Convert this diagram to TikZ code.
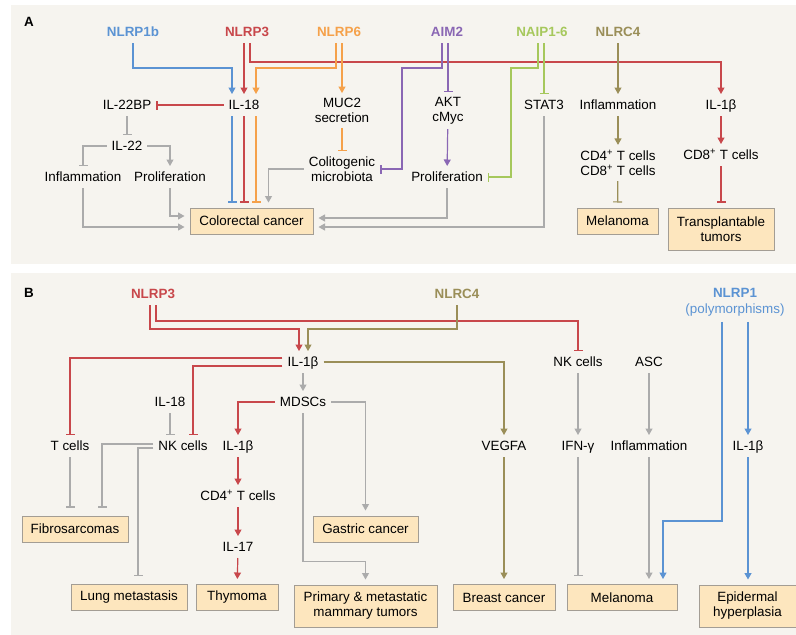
\documentclass[tikz,border=0pt]{standalone}
\usepackage{fontspec}
\setmainfont{Liberation Sans}
\usetikzlibrary{arrows.meta,calc}
\definecolor{PanelClr}{HTML}{F6F4EF}
\definecolor{BoxClr}{HTML}{FDE6BE}
\definecolor{BoxLineClr}{HTML}{A39D94}
\definecolor{BlueClr}{HTML}{5B93D3}
\definecolor{RedClr}{HTML}{C8474B}
\definecolor{OrangeClr}{HTML}{F5A14A}
\definecolor{PurpleClr}{HTML}{8A67B4}
\definecolor{GreenClr}{HTML}{A6C85C}
\definecolor{OliveClr}{HTML}{9A8E58}
\definecolor{GrayClr}{HTML}{ABABAB}
\newcommand{\lblfont}{\fontsize{13.4}{15}\selectfont}

\begin{document}
\begin{tikzpicture}[x=1pt,y=-1pt,
  lbl/.style={font=\lblfont,inner xsep=5pt,inner ysep=6pt,text height=9.6pt,text depth=0pt},
  lbltwo/.style={font=\lblfont,align=center,inner sep=5pt},
  hdr/.style={lbl,font=\lblfont\bfseries},
  box/.style={draw=BoxLineClr,fill=BoxClr,line width=1pt,font=\lblfont,align=center,inner xsep=8pt,minimum height=26pt},
  act/.style={line width=1.2pt,-{Triangle[width=7pt,length=6.5pt]}},
  inhib/.style={line width=1.2pt,-{Bar[width=9pt]}},
  tobox/.style={shorten >=5pt}]

\fill[white] (0,0) rectangle (796,635);
\useasboundingbox (0,0) rectangle (796,635);
\fill[PanelClr] (11,5) rectangle (796,264);
\fill[PanelClr] (11,273) rectangle (796,635);

\node[font=\lblfont\bfseries] (pa) at (29,22) {A};
\node[font=\lblfont\bfseries] (pb) at (29,293) {B};

\node[hdr,text=BlueClr] (nlrpob) at (133,32) {NLRP1b};
\node[hdr,text=RedClr] (nlrpthA) at (247,32) {NLRP3};
\node[hdr,text=OrangeClr] (nlrpsix) at (339,32) {NLRP6};
\node[hdr,text=PurpleClr] (aimtwo) at (447,32) {AIM2};
\node[hdr,text=GreenClr] (naip) at (542,32) {NAIP1-6};
\node[hdr,text=OliveClr] (nlrcA) at (618,32) {NLRC4};

\node[lbl] (ilet) at (244,105) {IL-18};
\node[lbl] (iltbp) at (127,105) {IL-22BP};
\node[lbltwo] (muc) at (342,110.5) {MUC2\\secretion};
\node[lbltwo] (akt) at (448,110.5) {AKT\\cMyc};
\node[lbl] (stat) at (544,105) {STAT3};
\node[lbl] (inflA) at (618,105) {Inflammation};
\node[lbl] (ilobA) at (721,105) {IL-1β};
\node[lbl] (iltt) at (127,146) {IL-22};
\node[lbl] (inflL) at (83,177) {Inflammation};
\node[lbl] (prolL) at (170,177) {Proliferation};
\node[lbltwo] (colito) at (342,169) {Colitogenic\\microbiota};
\node[lbl] (prolR) at (447,177) {Proliferation};
\node[lbltwo] (cdA) at (618,163) {CD4\textsuperscript{+} T cells\\CD8\textsuperscript{+} T cells};
\node[lbl] (cdeA) at (721,155) {CD8\textsuperscript{+} T cells};

\node[box,minimum width=123pt] (crc) at (251.5,221) {Colorectal cancer};
\node[box,minimum width=81pt] (melA) at (617.5,221) {Melanoma};
\node[box,minimum width=106pt,minimum height=42pt] (transp) at (721,229) {Transplantable\\tumors};

\draw[act,BlueClr] (nlrpob.south) -- ++(0,25) -| ([xshift=-12pt]ilet.north);
\draw[act,RedClr] ([xshift=-3pt]nlrpthA.south) -- (ilet.north);
\draw[act,RedClr] ([xshift=3pt]nlrpthA.south) -- ++(0,19) -| (ilobA.north);
\draw[act,OrangeClr] ([xshift=-3pt]nlrpsix.south) -- ++(0,25) -| ([xshift=12pt]ilet.north);
\draw[act,OrangeClr] ([xshift=3pt]nlrpsix.south) -- (muc.north);
\draw[inhib,PurpleClr] ([xshift=-5pt]aimtwo.south) -- ++(0,25) -- ++(-40,0) |- (colito.east);
\draw[inhib,PurpleClr] ([xshift=1pt]aimtwo.south) -- (akt.north);
\draw[inhib,GreenClr] ([xshift=-4pt]naip.south) -- ++(0,25) -- ++(-27,0) |- (prolR.east);
\draw[inhib,GreenClr] ([xshift=2pt]naip.south) -- (stat.north);
\draw[act,OliveClr] (nlrcA) -- (inflA);
\draw[act,OliveClr] (inflA) -- (cdA);
\draw[inhib,OliveClr,tobox] (cdA) -- (melA);
\draw[act,RedClr] (ilobA) -- (cdeA);
\draw[inhib,RedClr,tobox] (cdeA) -- (transp);

\draw[inhib,RedClr] (ilet.west) -- (iltbp.east);
\draw[inhib,GrayClr] (iltbp) -- (iltt);
\draw[inhib,GrayClr] (iltt.west) -| (inflL.north);
\draw[act,GrayClr] (iltt.east) -| (prolL.north);
\draw[act,GrayClr,tobox] (inflL.south) |- ([yshift=-6pt]crc.west);
\draw[act,GrayClr,tobox] (prolL.south) |- ([yshift=5pt]crc.west);
\draw[act,GrayClr,tobox] (colito.west) -| ([xshift=17pt]crc.north);
\draw[inhib,BlueClr,tobox] ([xshift=-12pt]ilet.south) -- ([xshift=-12pt]ilet.south |- crc.north);
\draw[inhib,RedClr,tobox] (ilet.south) -- (ilet.south |- crc.north);
\draw[inhib,OrangeClr,tobox] ([xshift=12pt]ilet.south) -- ([xshift=12pt]ilet.south |- crc.north);
\draw[inhib,OrangeClr] (muc) -- (colito);
\draw[act,PurpleClr] (akt) -- (prolR);
\draw[act,GrayClr,tobox] (prolR.south) |- ([yshift=3pt]crc.east);
\draw[act,GrayClr,tobox] (stat.south) |- ([yshift=-6pt]crc.east);

\node[hdr,text=RedClr] (nlrpthB) at (153,294) {NLRP3};
\node[hdr,text=OliveClr] (nlrcB) at (457,294) {NLRC4};
\node[lbltwo,text=BlueClr] (nlrpone) at (735,302.5) {\textbf{NLRP1}\\[1.5pt](polymorphisms)};

\node[lbl] (ilobB) at (303,362) {IL-1β};
\node[lbl] (nkR) at (578,362) {NK cells};
\node[lbl] (asc) at (649,362) {ASC};
\node[lbl] (ilteB) at (170,402) {IL-18};
\node[lbl] (mdsc) at (303,402) {MDSCs};
\node[lbl] (tcell) at (70,446) {T cells};
\node[lbl] (nkL) at (183,446) {NK cells};
\node[lbl] (ilobC) at (238,446) {IL-1β};
\node[lbl] (vegfa) at (504,446) {VEGFA};
\node[lbl] (ifng) at (578,446) {IFN-γ};
\node[lbl] (inflB) at (649,446) {Inflammation};
\node[lbl] (ilobD) at (748,446) {IL-1β};
\node[lbl] (cdB) at (238,496) {CD4\textsuperscript{+} T cells};
\node[lbl] (ilsv) at (238,547) {IL-17};

\node[box,minimum width=106pt] (fibro) at (75,529) {Fibrosarcomas};
\node[box,minimum width=105pt] (gastric) at (365.5,529) {Gastric cancer};
\node[box,minimum width=116pt] (lung) at (129,597.5) {Lung metastasis};
\node[box,minimum width=82pt] (thym) at (237,597.5) {Thymoma};
\node[box,minimum width=143pt,minimum height=42pt] (prim) at (365.5,606) {Primary \& metastatic\\mammary tumors};
\node[box,minimum width=102pt] (breast) at (504,597.5) {Breast cancer};
\node[box,minimum width=110pt] (melB) at (622,597.5) {Melanoma};
\node[box,minimum width=97pt,minimum height=42pt] (epid) at (747.5,606) {Epidermal\\hyperplasia};

\draw[act,RedClr] ([xshift=-3pt]nlrpthB.south) -- ++(0,24) -| ([xshift=-4pt]ilobB.north);
\draw[inhib,RedClr] ([xshift=3pt]nlrpthB.south) -- ++(0,16) -| (nkR.north);
\draw[act,OliveClr] (nlrcB.south) -- ++(0,24) -| ([xshift=5pt]ilobB.north);
\draw[inhib,RedClr] ([yshift=4pt]ilobB.west) -| (tcell.north);
\draw[inhib,RedClr] ([yshift=-4pt]ilobB.west) -| ([xshift=10pt]nkL.north);
\draw[act,OliveClr] (ilobB.east) -| (vegfa.north);
\draw[act,GrayClr] (ilobB) -- (mdsc);
\draw[inhib,GrayClr] (ilteB) -- (ilteB |- nkL.north);
\draw[act,RedClr] (mdsc.west) -| (ilobC.north);
\draw[act,GrayClr,tobox] (mdsc.east) -| (gastric.north);
\draw[act,GrayClr,tobox] (mdsc.south) |- ([yshift=23pt]prim.north) -- (prim.north);
\draw[act,RedClr] (ilobC) -- (cdB);
\draw[act,RedClr] (cdB) -- (ilsv);
\draw[act,RedClr,tobox] (ilsv) -- (thym);
\draw[inhib,GrayClr,shorten >=8pt] (tcell) -- (tcell |- fibro.north);
\draw[inhib,GrayClr,shorten >=8pt] ([yshift=2pt]nkL.west) -| ([xshift=27pt]fibro.north);
\draw[inhib,GrayClr,shorten >=8pt] ([yshift=-2pt]nkL.west) -| ([xshift=9pt]lung.north);
\draw[act,OliveClr,tobox] (vegfa) -- (breast);
\draw[act,GrayClr] (nkR) -- (ifng);
\draw[inhib,GrayClr,shorten >=8pt] (ifng) -- (ifng |- melB.north);
\draw[act,GrayClr] (asc) -- (inflB);
\draw[act,GrayClr,tobox] (inflB) -- (inflB |- melB.north);
\draw[act,BlueClr,tobox] ([xshift=-13pt]nlrpone.south) |- ([xshift=41pt,yshift=63pt]melB.north) -- ([xshift=41pt]melB.north);
\draw[act,BlueClr] ([xshift=13pt]nlrpone.south) -- (ilobD.north);
\draw[act,BlueClr,tobox] (ilobD.south) -- (ilobD.south |- epid.north);

\end{tikzpicture}
\end{document}
